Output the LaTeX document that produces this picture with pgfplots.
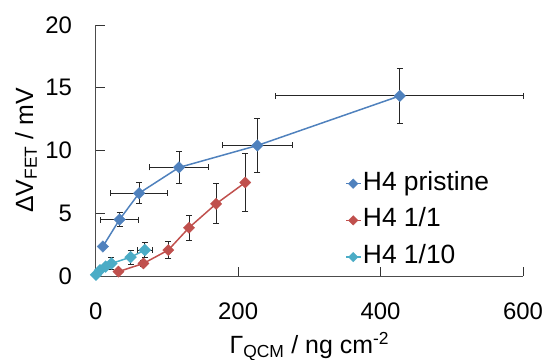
\documentclass[border=0pt]{standalone}
\usepackage{pgfplots}
\pgfplotsset{compat=1.18}
\usetikzlibrary{calc}
\usepackage{fontspec}
\setmainfont{Liberation Sans}
\definecolor{cblue}{HTML}{4F81BD}
\definecolor{cred}{HTML}{C0504D}
\definecolor{ccyan}{HTML}{4BACC6}
\begin{document}
\begin{tikzpicture}
\pgfplotstableread{
x y ex ey
10 2.35 0 0
33.5 4.5 26.5 0.55
61 6.6 40 0.85
117 8.65 42 1.3
227 10.4 49 2.15
427 14.35 174 2.2
}\pristine
\pgfplotstableread{
x y ex ey
32 0.35 0 0
67 1.0 0 0.2
102 2.07 0 0.65
131 3.85 0 1.0
169 5.75 0 1.6
210 7.45 0 2.3
}\oneone
\pgfplotstableread{
x y ex ey
0.5 0.1 0 0
6 0.45 0 0
14 0.75 0 0.2
22 1.0 0 0.45
49 1.5 0 0.55
69 2.07 10 0.6
}\oneten
\begin{axis}[
  name=ax,
  scale only axis,
  width=427.3bp, height=251bp,
  xmin=0, xmax=600, ymin=0, ymax=20,
  xtick={0,200,400,600}, ytick={0,5,10,15,20},
  axis x line*=bottom, axis y line*=left,
  axis line style={black!70, line width=0.9pt},
  tick align=inside,
  major tick length=9bp,
  tick style={black!80, line width=0.9pt},
  clip=false,
  /pgf/number format/assume math mode=true,
  every tick label/.append style={font=\fontsize{24}{28}\selectfont, inner sep=0pt},
  xticklabel style={yshift=-27bp},
  yticklabel style={xshift=-23.5bp},
  label style={font=\fontsize{25}{28}\selectfont},
  xlabel={Γ\textsubscript{QCM} / ng cm\textsuperscript{-2}},
  ylabel={ΔV\textsubscript{FET} / mV},
  x label style={at={(axis description cs:0.5,-0.308)}, anchor=base},
  y label style={at={(axis description cs:-0.163,0.5)}, anchor=center},
  legend style={draw=none, fill=none, font=\fontsize{26.5}{30}\selectfont,
    at={(axis description cs:0.584,0.4223)}, anchor=north west,
    row sep=9.7bp, inner sep=0pt,
    nodes={inner sep=1bp, text height=19bp, text depth=6bp},
    /tikz/every even column/.append style={column sep=0bp}},
  legend cell align=left,
  legend image code/.code={
    \draw[line width=1.5pt] (0bp,0bp) -- (15bp,0bp);
    \draw[mark size=3.4bp] plot coordinates {(7bp,0bp)};
  },
  error bars/error bar style={black!85, line width=0.9pt, solid},
  error bars/error mark options={black!85, line width=0.9pt, mark size=3bp, rotate=90},
]
% error bars (drawn beneath the markers)
\addplot[draw=none, mark=none, forget plot, error bars/.cd, x dir=both, x explicit, y dir=both, y explicit]
  table[x=x, y=y, x error=ex, y error=ey] {\pristine};
\addplot[draw=none, mark=none, forget plot, error bars/.cd, x dir=both, x explicit, y dir=both, y explicit]
  table[x=x, y=y, x error=ex, y error=ey] {\oneone};
\addplot[draw=none, mark=none, forget plot, error bars/.cd, x dir=both, x explicit, y dir=both, y explicit]
  table[x=x, y=y, x error=ex, y error=ey] {\oneten};
% series
\addplot[cblue, line width=1.5pt, mark=square*, mark size=4.1bp,
  mark options={rotate=45, fill=cblue, draw=cblue, line width=0.3pt}]
  table[x=x, y=y] {\pristine};
\addlegendentry{H4 pristine}
\addplot[cred, line width=1.5pt, mark=square*, mark size=4.0bp,
  mark options={rotate=45, fill=cred, draw=cred, line width=0.3pt}]
  table[x=x, y=y] {\oneone};
\addlegendentry{H4 1/1}
\addplot[ccyan, line width=1.5pt, mark=square*, mark size=4.2bp,
  mark options={rotate=45, fill=ccyan, draw=ccyan, line width=0.3pt}]
  table[x=x, y=y] {\oneten};
\addlegendentry{H4 1/10}
\end{axis}
\pgfresetboundingbox
\path ($(ax.south west)+(-95.7bp,-83bp)$) rectangle ($(ax.north east)+(25bp,25bp)$);
\end{tikzpicture}
\end{document}
